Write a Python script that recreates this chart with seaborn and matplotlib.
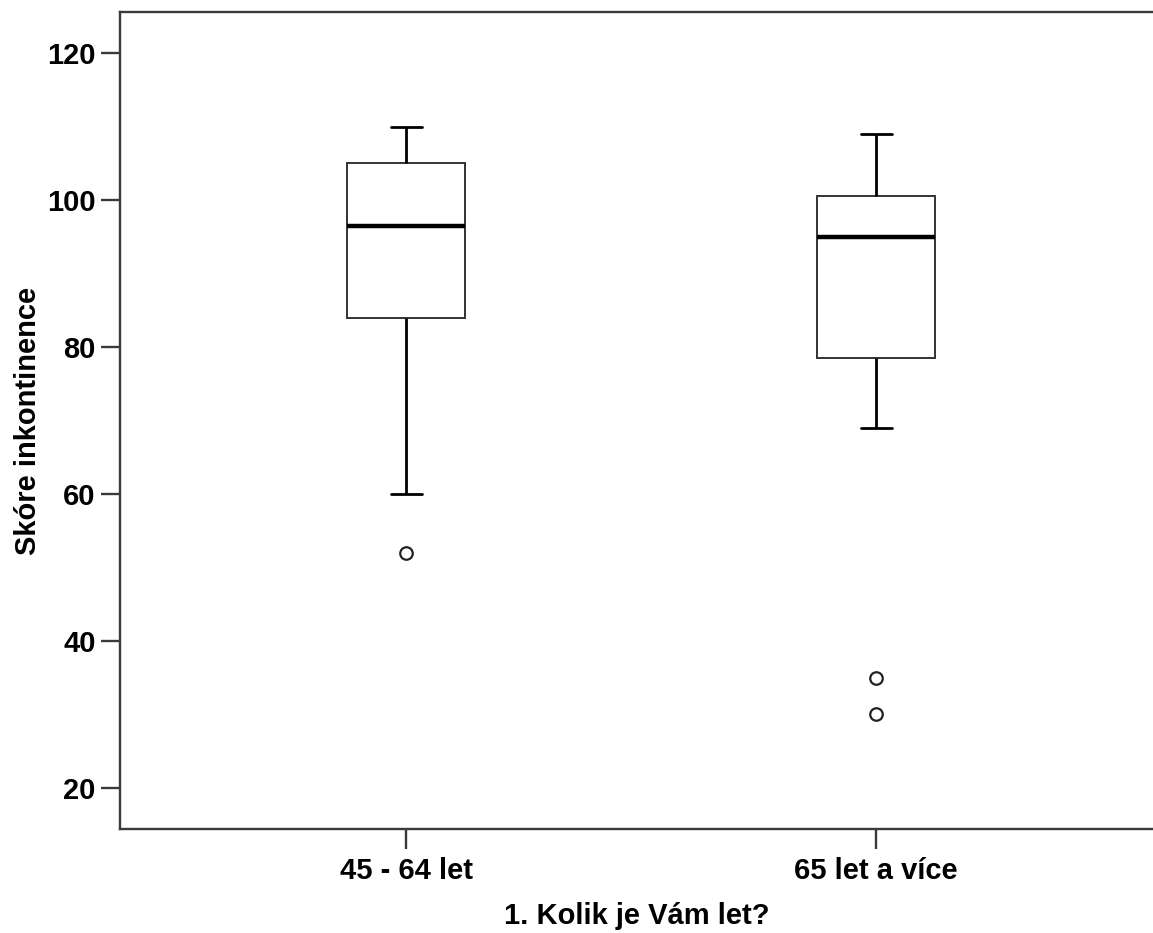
import matplotlib
matplotlib.use("Agg")
import matplotlib.pyplot as plt
import seaborn as sns
import numpy as np
import pandas as pd

# hand-read values per age group (chosen so quartiles / whiskers / outliers match the picture)
groups = ["45 - 64 let", "65 let a více"]
score_45_64 = [52, 60, 75, 84, 88, 92, 96.5, 100, 103, 105, 107, 108, 110]
score_65 = [30, 35, 69, 78.5, 85, 90, 95, 97, 99, 100.5, 104, 107, 109]
y_ticks = [20, 40, 60, 80, 100, 120]

df = pd.DataFrame({
    "group": [groups[0]] * len(score_45_64) + [groups[1]] * len(score_65),
    "score": score_45_64 + score_65,
})

sns.set_style("white")
plt.rcParams["font.family"] = ["Liberation Sans", "DejaVu Sans"]
plt.rcParams["font.weight"] = "bold"
plt.rcParams["text.color"] = "black"
plt.rcParams["axes.labelcolor"] = "black"
plt.rcParams["xtick.color"] = "black"
plt.rcParams["ytick.color"] = "black"

fig = plt.figure(figsize=(11.53, 9.33), dpi=100)
ax = fig.add_axes([120 / 1153, 104 / 933, 1 - 120 / 1153, 817 / 933])

sns.boxplot(data=df, x="group", y="score", order=groups, ax=ax,
            width=0.25, whis=1.5, color="white", linecolor="#222222",
            linewidth=1.5,
            boxprops=dict(facecolor="white", edgecolor="#333333", linewidth=1.4),
            medianprops=dict(color="black", linewidth=3.2),
            whiskerprops=dict(color="black", linewidth=2.0),
            capprops=dict(color="black", linewidth=2.0),
            flierprops=dict(marker="o", markersize=9, markerfacecolor="white",
                            markeredgecolor="#222222", markeredgewidth=1.6))

# SPSS-style short caps
for c in ax.containers:
    for cap in getattr(c, "caps", []):
        xd = np.asarray(cap.get_xdata(), dtype=float)
        m = xd.mean()
        cap.set_xdata([m - 0.033, m + 0.033])

ax.set_xlim(-0.6085, 1.589)
ax.set_ylim(14.42, 125.58)
ax.set_yticks(y_ticks)

for side in ["left", "bottom", "top"]:
    ax.spines[side].set_visible(True)
    ax.spines[side].set_color("#3a3a3a")
    ax.spines[side].set_linewidth(1.7)
ax.spines["right"].set_visible(False)

ax.tick_params(axis="y", length=14, width=1.7, color="#3a3a3a", labelcolor="black",
               pad=3.5, labelsize=21, left=True)
ax.tick_params(axis="x", length=14.5, width=1.7, color="#3a3a3a", labelcolor="black",
               pad=6, labelsize=21, bottom=True)
for lab in ax.get_xticklabels() + ax.get_yticklabels():
    lab.set_fontweight("bold")

ax.set_xlabel("1. Kolik je Vám let?", fontsize=21, fontweight="bold", labelpad=12,
              color="black")
ax.set_ylabel("Skóre inkontinence", fontsize=21, fontweight="bold", labelpad=4,
              color="black")

fig.savefig("out.png", dpi=100)
